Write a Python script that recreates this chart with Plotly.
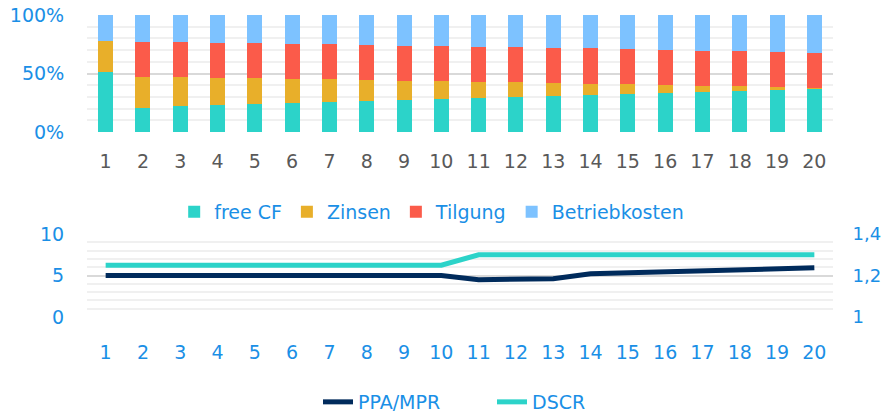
import plotly.graph_objects as go

years = [str(i) for i in range(1, 21)]

free_cf = [51.6, 20.8, 21.9, 22.8, 24.2, 24.8, 25.6, 26.5, 27.6, 28.2,
           29.3, 30.2, 31.1, 31.9, 32.8, 33.6, 34.5, 35.3, 36.2, 37.0]
zinsen = [26.2, 26.2, 24.8, 23.6, 21.7, 20.5, 19.4, 17.9, 16.3, 15.4,
          13.4, 12.3, 10.8, 9.4, 7.9, 6.6, 5.1, 3.7, 2.0, 0.6]
tilgung = [0.0, 30.2, 30.2, 30.0, 30.2, 30.2, 30.2, 30.2, 29.9, 29.9,
           30.2, 30.1, 30.2, 30.2, 30.0, 30.2, 29.9, 29.9, 30.2, 30.2]
betriebkosten = [22.2, 22.8, 23.1, 23.6, 23.9, 24.5, 24.8, 25.4, 26.2, 26.5,
                 27.1, 27.4, 27.9, 28.5, 29.3, 29.6, 30.5, 31.1, 31.6, 32.2]

ppa_mpr = [5.0, 5.0, 5.0, 5.0, 5.0, 5.0, 5.0, 5.0, 5.0, 5.0,
           4.5, 4.62, 4.62, 5.2, 5.3, 5.38, 5.5, 5.62, 5.75, 5.92]
dscr = [1.25, 1.25, 1.25, 1.25, 1.25, 1.25, 1.25, 1.25, 1.25, 1.25,
        1.30, 1.30, 1.30, 1.30, 1.30, 1.30, 1.30, 1.30, 1.30, 1.30]

BLUE = "#1a8fe6"
GRAY = "#595959"
FONT = "DejaVu Sans"
W, H = 881, 412

fig = go.Figure()
bar_series = [("free CF", free_cf, "#2cd3c9"), ("Zinsen", zinsen, "#e8af2a"),
              ("Tilgung", tilgung, "#fb5b4a"), ("Betriebkosten", betriebkosten, "#7dc2ff")]
for name, vals, col in bar_series:
    fig.add_trace(go.Bar(x=years, y=vals, name=name, marker=dict(color=col, line=dict(width=0)),
                         xaxis="x", yaxis="y", legend="legend"))

fig.add_trace(go.Scatter(x=years, y=ppa_mpr, name="PPA/MPR", mode="lines",
                         line=dict(color="#002b5c", width=5), xaxis="x2", yaxis="y2", legend="legend2"))
fig.add_trace(go.Scatter(x=years, y=dscr, name="DSCR", mode="lines",
                         line=dict(color="#2cd3c9", width=5), xaxis="x2", yaxis="y3", legend="legend2"))

xd = [87 / W, 833 / W]
tick_common = dict(ticks="outside", tickcolor="rgba(0,0,0,0)", automargin=False)
fig.update_layout(
    width=W, height=H, margin=dict(l=0, r=0, t=0, b=0, autoexpand=False),
    paper_bgcolor="white", plot_bgcolor="white",
    barmode="stack", bargap=0.6, separators=",.",
    font=dict(family=FONT, size=19, color=BLUE),
    xaxis=dict(domain=xd, anchor="y", type="category", range=[-0.5, 19.5],
               showgrid=False, zeroline=False, ticklen=12,
               tickfont=dict(color=GRAY, size=19), **tick_common),
    yaxis=dict(domain=[1 - 132 / H, 1 - 15 / H], anchor="x", range=[0, 100], dtick=50,
               ticksuffix="%", showgrid=True, gridcolor="#d9d9d9", gridwidth=1.5, zeroline=False,
               minor=dict(dtick=10, showgrid=True, gridcolor="#f0f0f0", gridwidth=1.5),
               ticklen=18, tickfont=dict(color=BLUE, size=19), **tick_common),
    xaxis2=dict(domain=xd, anchor="y2", type="category", range=[-0.5, 19.5],
                showgrid=False, zeroline=False, ticklen=18,
                tickfont=dict(color=BLUE, size=19), **tick_common),
    yaxis2=dict(domain=[1 - 317 / H, 1 - 234 / H], anchor="x2", range=[0, 10], dtick=5,
                showgrid=True, gridcolor="#d9d9d9", gridwidth=1.5, zeroline=False,
                minor=dict(dtick=1, showgrid=True, gridcolor="#f0f0f0", gridwidth=1.5),
                ticklen=18, tickfont=dict(color=BLUE, size=19), **tick_common),
    yaxis3=dict(overlaying="y2", anchor="x2", side="right", range=[1, 1.4], dtick=0.2,
                showgrid=False, zeroline=False, tickformat=".1~f",
                ticklen=15, tickfont=dict(color=BLUE, size=18), **tick_common),
    legend=dict(orientation="h", x=0.49, xanchor="center", y=1 - 212 / H, yanchor="middle",
                traceorder="normal", font=dict(size=19, color=BLUE), bgcolor="rgba(0,0,0,0)"),
    legend2=dict(orientation="h", x=318 / W, xanchor="left", y=1 - 402 / H, yanchor="middle",
                 entrywidth=129, entrywidthmode="pixels",
                 traceorder="normal", font=dict(size=19, color=BLUE), bgcolor="rgba(0,0,0,0)"),
)

fig.write_html("out.html", post_script="document.body.style.margin='0px';",
               config={"displayModeBar": False})
